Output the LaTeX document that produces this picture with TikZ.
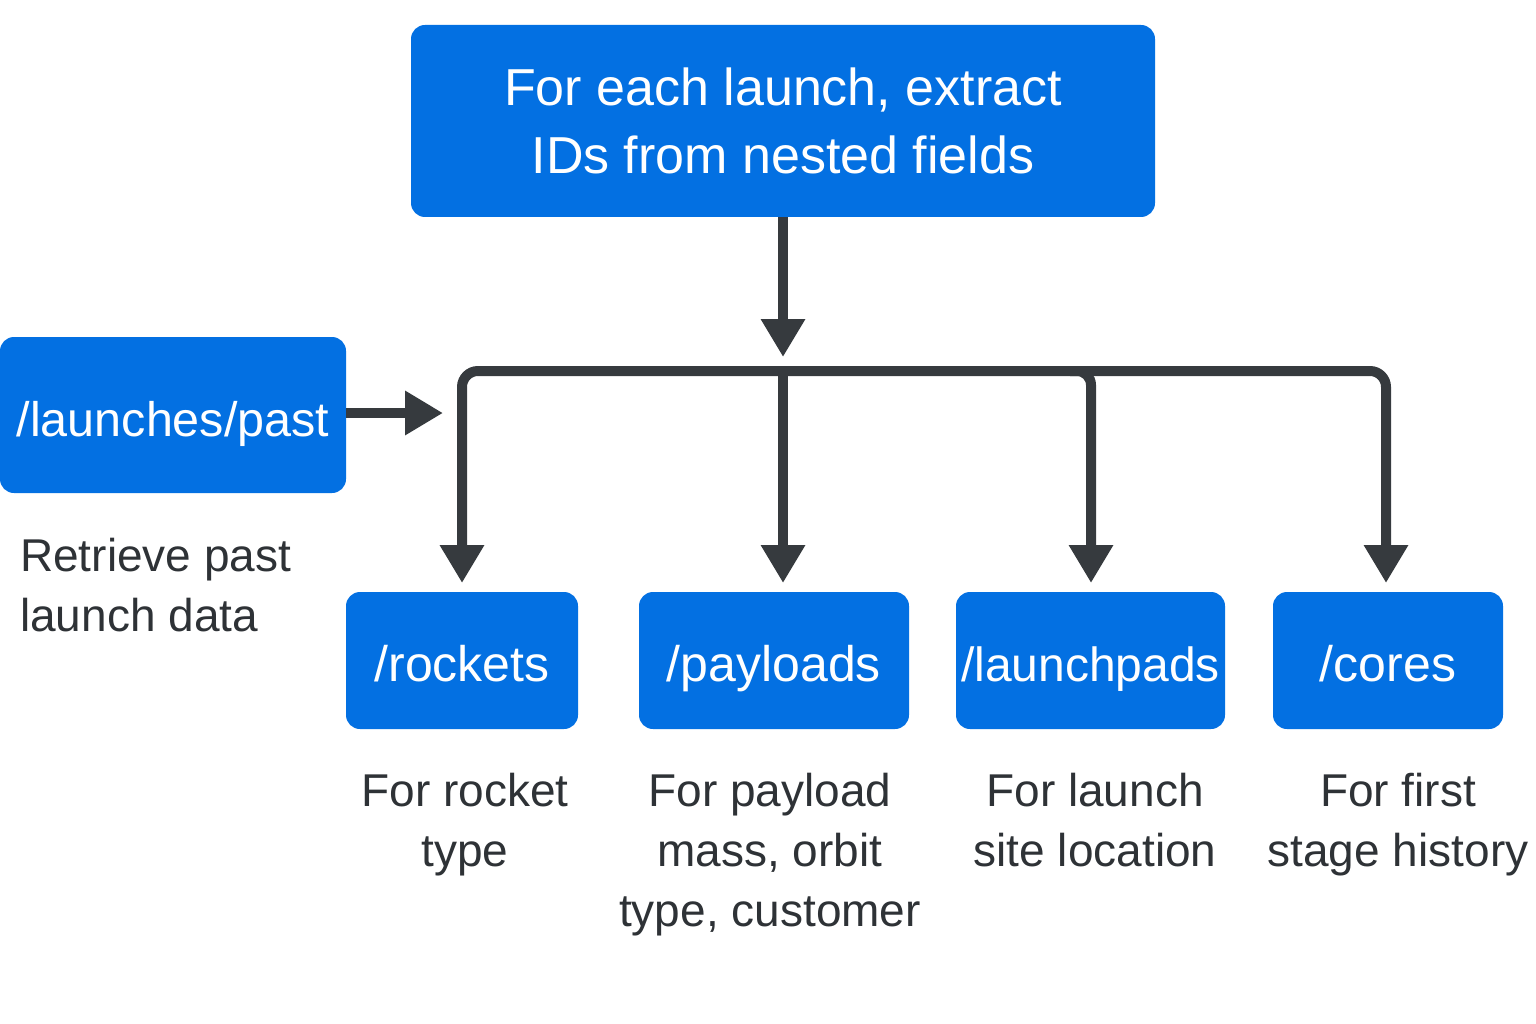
\documentclass[tikz,border=0pt]{standalone}
\usepackage{fontspec}
\setmainfont{Liberation Sans}
\usetikzlibrary{arrows.meta}
\definecolor{boxblue}{RGB}{3,112,226}
\definecolor{arrgrey}{RGB}{54,58,62}
\definecolor{txtgrey}{RGB}{46,50,54}
\tikzset{
  bluebox/.style={draw=none, fill=boxblue, rounded corners=14pt, inner sep=0pt,
    text=white, align=center},
  onebox/.style={bluebox, text height=42pt, text depth=0pt},
  conn/.style={draw=arrgrey, line width=10pt},
  arr/.style={conn, -{Triangle[width=42pt,length=38pt]}},
  arr2/.style={conn, {Triangle[width=42pt,length=38pt]}-{Triangle[width=42pt,length=38pt]}},
  caption/.style={text=txtgrey, align=center, inner sep=0pt, font=\fontsize{46}{60}\selectfont},
}
\begin{document}
\begin{tikzpicture}[x=1pt,y=-1pt]
\useasboundingbox (0,0) rectangle (1536,1024);
% boxes
\node[bluebox, minimum width=744pt, minimum height=192pt, font=\fontsize{52}{68}\selectfont] (top) at (783,121)
  {For each launch, extract\\IDs from nested fields};
\node[onebox, minimum width=346pt, minimum height=156pt, font=\fontsize{48.5}{58}\selectfont] (launches) at (173,415) {/launches/past};
\node[onebox, minimum width=232pt, minimum height=137pt, font=\fontsize{50}{60}\selectfont] (rockets) at (462,660.5) {/rockets};
\node[onebox, minimum width=270pt, minimum height=137pt, font=\fontsize{50}{60}\selectfont] (payloads) at (774,660.5) {/payloads};
\node[onebox, minimum width=269pt, minimum height=137pt, font=\fontsize{48}{60}\selectfont] (launchpads) at (1090.5,660.5) {/launchpads};
\node[onebox, minimum width=230pt, minimum height=137pt, font=\fontsize{50}{60}\selectfont] (cores) at (1388,660.5) {/cores};
% captions
\node[caption, align=left, anchor=west] (retr) at (20,589) {\strut Retrieve past\\launch data\strut};
\node[caption] (caprock) at (465,824) {\strut For rocket\\type\strut};
\node[caption] (cappay) at (770,854) {\strut For payload\\mass, orbit\\type, customer\strut};
\node[caption] (caplp) at (1095,824) {\strut For launch\\site location\strut};
\node[caption] (capcore) at (1398,824) {\strut For first\\stage history\strut};
% connector coordinates
\coordinate (jTop) at (783,357);
\coordinate (jL) at (462,371);
\coordinate (jM) at (783,371);
\coordinate (jP) at (1091,371);
\coordinate (jPa) at (1070,371);
\coordinate (tipL) at (462,583);
\coordinate (tipM) at (783,583);
\coordinate (tipP) at (1091,583);
\coordinate (tipR) at (1386,583);
\coordinate (tipIn) at (443,413);
% connectors
\draw[arr] (top.south) -- (jTop);
\draw[arr] (launches.east |- tipIn) -- (tipIn);
\draw[arr2, rounded corners=16pt] (tipR) |- (jL) -- (tipL);
\draw[arr] (jM) -- (tipM);
\draw[arr, rounded corners=14pt] (jPa) -- (jP) -- (tipP);
\end{tikzpicture}
\end{document}
